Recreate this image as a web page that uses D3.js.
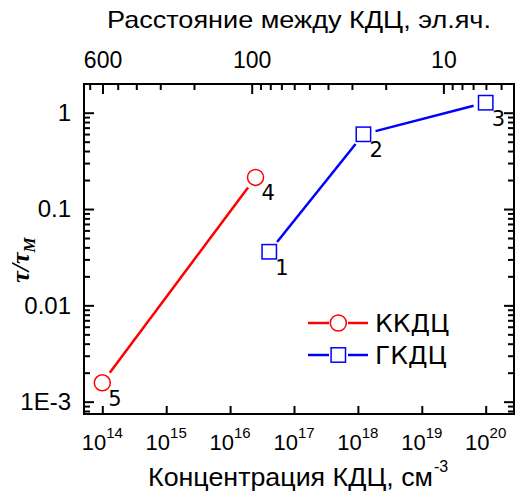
<!DOCTYPE html>
<html><head><meta charset="utf-8">
<script src="https://cdn.jsdelivr.net/npm/d3@7"></script>
<style>
body{margin:0;background:#fff;}
svg{display:block;}
text{font-family:"Liberation Sans",Arial,sans-serif;fill:#000;}
</style></head>
<body><svg id="c" width="515" height="494"></svg>
<script>
// ---- data ----
const seriesNames = ["ККДЦ", "ГКДЦ"];
const kkdcConc = [1e14, 2.5e16];
const kkdcTau  = [0.00157, 0.213];
const kkdcLabels = ["5", "4"];
const gkdcConc = [4.1e16, 1.22e18, 1e20];
const gkdcTau  = [0.036, 0.597, 1.27];
const gkdcLabels = ["1", "2", "3"];
const xTicks = [1e14, 1e15, 1e16, 1e17, 1e18, 1e19, 1e20];
const xTickExp = ["14", "15", "16", "17", "18", "19", "20"];
const yTicks = [1, 0.1, 0.01, 0.001];
const yTickLabels = ["1", "0.1", "0.01", "1E-3"];
const topTicksMajor = [600, 100, 10];
const topTickLabels = ["600", "100", "10"];
const topTitle = "Расстояние между КДЦ, эл.яч.";
const bottomTitle = "Концентрация КДЦ, см";
const bottomTitleSup = "-3";

// ---- layout ----
const L = 84, R = 514, T = 84, B = 414;
const svg = d3.select("#c");
const FS = 22;
const NUMFONT = "'DejaVu Sans',Verdana,sans-serif";

const x = d3.scaleLog().domain([Math.pow(10, 13.7136), Math.pow(10, 20.443)]).range([L, R]);
const y = d3.scaleLog().domain([Math.pow(10, 0.298), Math.pow(10, -3.128)]).range([T, B]);
// top axis: distance between centres, d = 100 at N = 10^16.338, d ~ N^(-1/3)
const dOf = N => 100 * Math.pow(10, -(Math.log10(N) - 16.338) / 3);
const xTop = d3.scaleLog().domain([dOf(x.domain()[0]), dOf(x.domain()[1])]).range([L, R]);

// frame
svg.append("rect").attr("x", L).attr("y", T).attr("width", R - L).attr("height", B - T)
  .attr("fill", "none").attr("stroke", "#000").attr("stroke-width", 2);

// minor y ticks
const yMinor = [];
for (let e = -4; e <= 0; e++) for (let m = 2; m <= 9; m++) {
  const v = m * Math.pow(10, e);
  if (v <= y.domain()[0] && v >= y.domain()[1]) yMinor.push(v);
}
function yAxis(side) {
  const gMin = svg.append("g").attr("transform", `translate(${side === "left" ? L : R},0)`)
    .call((side === "left" ? d3.axisLeft(y) : d3.axisRight(y)).tickValues(yMinor).tickSize(-6).tickFormat(""));
  const gMaj = svg.append("g").attr("transform", `translate(${side === "left" ? L : R},0)`)
    .call((side === "left" ? d3.axisLeft(y) : d3.axisRight(y)).tickValues(yTicks).tickSize(-10).tickPadding(13)
      .tickFormat((d, i) => side === "left" ? yTickLabels[i] : ""));
  [gMin, gMaj].forEach(g => {
    g.select(".domain").remove();
    g.selectAll("line").attr("stroke", "#000").attr("stroke-width", 2);
    g.selectAll("text").style("font-size", "24px").attr("font-family", null);
  });
}
yAxis("left"); yAxis("right");

// bottom axis
const gB = svg.append("g").attr("transform", `translate(0,${B})`)
  .call(d3.axisBottom(x).tickValues(xTicks).tickSize(-8).tickFormat(""));
gB.select(".domain").remove();
gB.selectAll("line").attr("stroke", "#000").attr("stroke-width", 2);
xTicks.forEach((v, i) => {
  const t = svg.append("text").attr("x", x(v)).attr("y", 450).attr("text-anchor", "middle")
    .style("font-size", FS + "px");
  t.append("tspan").text("10");
  t.append("tspan").attr("dy", -12).style("font-size", "15px").text(xTickExp[i]);
});

// top axis
const topMinor = [];
for (let e = 0; e <= 3; e++) for (let m = 1; m <= 9; m++) {
  const v = m * Math.pow(10, e);
  const [a, b] = xTop.domain();
  if (v <= a && v >= b && !topTicksMajor.includes(v)) topMinor.push(v);
}
const gTm = svg.append("g").attr("transform", `translate(0,${T})`)
  .call(d3.axisTop(xTop).tickValues(topMinor).tickSize(-6).tickFormat(""));
const gTM = svg.append("g").attr("transform", `translate(0,${T})`)
  .call(d3.axisTop(xTop).tickValues(topTicksMajor).tickSize(-10).tickPadding(16)
    .tickFormat((d, i) => topTickLabels[i]));
[gTm, gTM].forEach(g => {
  g.select(".domain").remove();
  g.selectAll("line").attr("stroke", "#000").attr("stroke-width", 2);
  g.selectAll("text").style("font-size", "23px").attr("font-family", null);
});

// titles
svg.append("text").attr("x", 299).attr("y", 28).attr("text-anchor", "middle")
  .attr("textLength", 384).attr("lengthAdjust", "spacingAndGlyphs")
  .style("font-size", "24px").text(topTitle);
svg.append("text").attr("x", 148).attr("y", 486)
  .attr("textLength", 285).attr("lengthAdjust", "spacingAndGlyphs")
  .style("font-size", "26px").text(bottomTitle);
svg.append("text").attr("x", 434).attr("y", 472).style("font-size", "16px").text(bottomTitleSup);

const yl = svg.append("text").attr("transform", "translate(29,260) rotate(-90)")
  .attr("text-anchor", "middle")
  .style("font-family", "'Liberation Serif','DejaVu Serif',serif")
  .style("font-style", "italic").style("font-weight", "bold").style("font-size", "26px");
yl.append("tspan").text("τ/τ");
yl.append("tspan").attr("dy", 6).style("font-size", "17px").text("M");

// series drawing
const GAP = 12.5;
function drawSeries(conc, tau, labels, color, marker) {
  const pts = conc.map((c, i) => [x(c), y(tau[i])]);
  for (let i = 0; i < pts.length - 1; i++) {
    const [x1, y1] = pts[i], [x2, y2] = pts[i + 1];
    const len = Math.hypot(x2 - x1, y2 - y1), ux = (x2 - x1) / len, uy = (y2 - y1) / len;
    svg.append("line").attr("x1", x1 + ux * GAP).attr("y1", y1 + uy * GAP)
      .attr("x2", x2 - ux * GAP).attr("y2", y2 - uy * GAP)
      .attr("stroke", color).attr("stroke-width", 2.5);
  }
  pts.forEach((p, i) => {
    drawMarker(p[0], p[1], color, marker);
    svg.append("text").attr("x", p[0] + 6).attr("y", p[1] + 23)
      .style("font-family", NUMFONT).style("font-size", "21px").text(labels[i]);
  });
}
function drawMarker(cx, cy, color, marker) {
  if (marker === "circle") {
    svg.append("circle").attr("cx", cx).attr("cy", cy).attr("r", 8)
      .attr("fill", "#fff").attr("stroke", color).attr("stroke-width", 1.5);
  } else {
    svg.append("rect").attr("x", cx - 7.2).attr("y", cy - 7.2).attr("width", 14.4).attr("height", 14.4)
      .attr("fill", "#fff").attr("stroke", color).attr("stroke-width", 1.5);
  }
}
drawSeries(kkdcConc, kkdcTau, kkdcLabels, "#ff0000", "circle");
drawSeries(gkdcConc, gkdcTau, gkdcLabels, "#0000ff", "square");

// legend
const legend = [
  {name: seriesNames[0], color: "#ff0000", marker: "circle", y: 323},
  {name: seriesNames[1], color: "#0000ff", marker: "square", y: 355}
];
legend.forEach(l => {
  svg.append("line").attr("x1", 308).attr("x2", 329).attr("y1", l.y).attr("y2", l.y).attr("stroke", l.color).attr("stroke-width", 2.5);
  svg.append("line").attr("x1", 348).attr("x2", 368).attr("y1", l.y).attr("y2", l.y).attr("stroke", l.color).attr("stroke-width", 2.5);
  drawMarker(338.3, l.y, l.color, l.marker);
  svg.append("text").attr("x", 375).attr("y", l.y + 9)
    .style("font-family", NUMFONT).style("font-size", "25px").text(l.name);
});
</script></body></html>
